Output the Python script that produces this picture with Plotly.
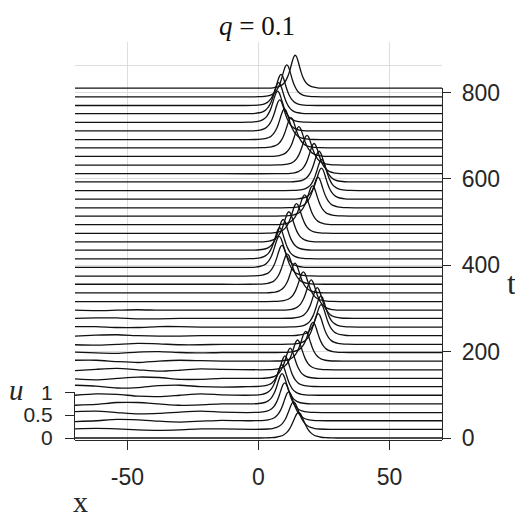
import plotly.graph_objects as go

# time of each slice (one curve per slice)
T = [0, 20, 40, 59, 79, 99, 119, 138, 158, 178, 198, 217, 237, 257, 277, 296,
     316, 336, 356, 375, 395, 415, 435, 454, 474, 494, 514, 533, 553, 573, 593,
     612, 632, 652, 672, 691, 711, 731, 751, 770, 790, 810]

# pulse centre, height and width scale for each slice
PEAK_X = [15.3, 13.4, 11.5, 10.0, 9.0, 8.9, 10.1, 12.1, 14.9, 18.0, 20.8, 22.8,
          23.9, 23.8, 22.4, 20.1, 17.1, 13.9, 11.0, 8.95, 7.9, 8.05, 9.4, 11.6,
          14.5, 17.6, 20.6, 22.7, 24.0, 24.1, 23.1, 21.2, 18.5, 15.4, 12.4, 9.9,
          8.1, 7.3, 7.7, 8.6, 10.8, 14.0]
PEAK_U = [0.56, 0.60, 0.63, 0.65, 0.66, 0.67, 0.67, 0.66, 0.65, 0.65, 0.66, 0.67,
          0.68, 0.68, 0.67, 0.66, 0.65, 0.65, 0.66, 0.67, 0.68, 0.68, 0.67, 0.66,
          0.65, 0.65, 0.66, 0.67, 0.68, 0.68, 0.67, 0.66, 0.65, 0.65, 0.66, 0.67,
          0.68, 0.68, 0.68, 0.68, 0.70, 0.72]
WIDTH = [1.15, 1.08, 1.04, 1.02, 1.0, 1.0, 1.0, 1.0, 1.0, 1.0, 1.0, 1.0, 1.0, 1.0,
         1.0, 1.0, 1.0, 1.0, 1.0, 1.0, 1.0, 1.0, 1.0, 1.0, 1.0, 1.0, 1.0, 1.0,
         1.0, 1.0, 1.0, 1.0, 1.0, 1.0, 1.0, 1.0, 1.0, 1.0, 0.99, 0.98, 0.96, 0.94]

# pulse profile (fraction of peak) at offsets from the centre
PROFILE_DX = [-14, -11, -9, -7.5, -6, -5, -4, -3, -2.4, -1.8, -1.2, -0.6, 0,
              0.6, 1.2, 1.8, 2.4, 3, 4, 5, 6, 7.5, 9, 11, 14]
PROFILE_U = [0.0, 0.004, 0.013, 0.030, 0.069, 0.120, 0.209, 0.359, 0.487, 0.643,
             0.809, 0.946, 1.0, 0.946, 0.809, 0.643, 0.487, 0.359, 0.209, 0.120,
             0.069, 0.030, 0.013, 0.004, 0.0]

# small radiation ripples left of the pulse in the early slices
RIPPLE_X = [-70, -62, -54, -46, -38, -30, -22, -14]
RIPPLE_U = [
    [0, 0, 0, 0, 0, 0, 0, 0],
    [0.01, 0.02, 0.01, -0.01, -0.02, -0.01, 0.01, 0.01],
    [-0.02, 0.0, 0.03, 0.02, -0.01, -0.03, -0.01, 0.01],
    [0.02, 0.03, 0.0, -0.03, -0.02, 0.01, 0.03, 0.01],
    [-0.03, -0.01, 0.03, 0.03, 0.0, -0.03, -0.02, 0.0],
    [0.0, 0.03, 0.02, -0.02, -0.03, 0.0, 0.03, 0.01],
    [0.03, 0.01, -0.03, -0.02, 0.02, 0.03, 0.0, -0.01],
    [-0.01, -0.03, 0.0, 0.03, 0.02, -0.02, -0.02, 0.0],
    [-0.02, 0.01, 0.03, 0.0, -0.03, -0.01, 0.02, 0.01],
    [0.02, 0.02, -0.01, -0.03, 0.0, 0.02, 0.01, 0.0],
    [0.01, -0.01, -0.02, 0.01, 0.02, 0.0, -0.01, 0.0],
    [-0.01, -0.02, 0.0, 0.02, 0.01, -0.01, -0.01, 0.0],
    [-0.01, 0.01, 0.02, 0.0, -0.01, -0.01, 0.0, 0.0],
    [0.01, 0.01, -0.01, -0.01, 0.01, 0.01, 0.0, 0.0],
    [0.0, 0.01, 0.01, -0.01, -0.01, 0.0, 0.0, 0.0],
    [0.0, -0.01, 0.0, 0.01, 0.0, 0.0, 0.0, 0.0],
]

X_TICKS = [-50, 0, 50]
X_LABELS = ["-50", "0", "50"]
T_TICKS = [0, 200, 400, 600, 800]
U_TICKS = [0, 0.5, 1]
U_LABELS = ["0", "0.5", "1"]

K = 106          # height of u = 1 in t units
T_END = 810
Y_LO, Y_HI = -4.6, 917
AX = "#262626"
GRID = "#dedede"
SANS = "Liberation Sans, Arial, sans-serif"
SERIF = "Liberation Serif, DejaVu Serif, serif"

fig = go.Figure()

# carriers for the two short side axes (t on the right, u on the left)
fig.add_trace(go.Scatter(x=[None], y=[None], yaxis="y", showlegend=False))
fig.add_trace(go.Scatter(x=[None], y=[None], yaxis="y2", showlegend=False))

for i, t in enumerate(T):
    xs, us = [], []
    ripple = RIPPLE_U[i] if i < len(RIPPLE_U) else [0] * len(RIPPLE_X)
    xs += RIPPLE_X
    us += ripple
    xs += [PEAK_X[i] + WIDTH[i] * d for d in PROFILE_DX]
    us += [PEAK_U[i] * p for p in PROFILE_U]
    xs.append(70)
    us.append(0.0)
    fig.add_trace(go.Scatter(
        x=xs, y=[t + K * u for u in us], yaxis="y3", mode="lines",
        line=dict(color="#111111", width=1.3, shape="spline", smoothing=0.6),
        showlegend=False, hoverinfo="skip",
    ))

plot_h = 398
px_per_t = plot_h / (Y_HI - Y_LO)
t_top = (T_END - Y_LO) * px_per_t / plot_h
u_top = (K - Y_LO) * px_per_t / plot_h

# page body adds 8px, margins are shifted to compensate
fig.update_layout(
    width=523, height=523,
    margin=dict(l=67, r=89, t=34, b=91),
    paper_bgcolor="white", plot_bgcolor="white",
    font=dict(family=SANS, size=23, color=AX),
    xaxis=dict(
        range=[-70, 70], tickvals=X_TICKS, ticktext=X_LABELS, showgrid=True,
        gridcolor=GRID, gridwidth=1, zeroline=False, showline=True,
        linecolor=AX, linewidth=1.3, ticks="outside", ticklen=9, tickcolor=AX,
        tickwidth=1.3, ticklabelstandoff=7, anchor="y3",
    ),
    yaxis=dict(
        domain=[0, t_top], range=[Y_LO, T_END], anchor="x", side="right",
        tickvals=T_TICKS, showgrid=False, zeroline=False, showline=True,
        linecolor=AX, linewidth=1.3, ticks="outside", ticklen=8, tickcolor=AX,
        tickwidth=1.3, ticklabelstandoff=6,
    ),
    yaxis2=dict(
        domain=[0, u_top], range=[Y_LO / K, 1.0], anchor="x", side="left",
        tickvals=U_TICKS, ticktext=U_LABELS, showgrid=False,
        zeroline=False, showline=True, linecolor=AX, linewidth=1.3,
        ticks="outside", ticklen=9, tickcolor=AX, tickwidth=1.3,
        ticklabelstandoff=8, tickfont=dict(size=21),
    ),
    yaxis3=dict(
        domain=[0, 1], range=[Y_LO, Y_HI], anchor="x",
        tickvals=T_TICKS[1:] + [T_END + K / 2, T_END + K],
        showticklabels=False, ticks="", showgrid=True, gridcolor=GRID,
        zeroline=False, showline=False,
    ),
    annotations=[
        dict(text="<i>q</i> = 0.1", x=0.496, y=1.04, xref="paper", yref="paper",
             showarrow=False, font=dict(family=SERIF, size=27, color="#111111"),
             xanchor="center", yanchor="middle"),
        dict(text="x", x=0.014, y=-0.155, xref="paper", yref="paper",
             showarrow=False, font=dict(family=SERIF, size=30, color=AX),
             xanchor="center", yanchor="middle"),
        dict(text="t", x=1.19, y=0.395, xref="paper", yref="paper",
             showarrow=False, font=dict(family=SERIF, size=32, color=AX),
             xanchor="center", yanchor="middle"),
        dict(text="<i>u</i>", x=-0.16, y=0.125, xref="paper", yref="paper",
             showarrow=False, font=dict(family=SERIF, size=29, color=AX),
             xanchor="center", yanchor="middle"),
    ],
)

fig.write_html("out.html")
